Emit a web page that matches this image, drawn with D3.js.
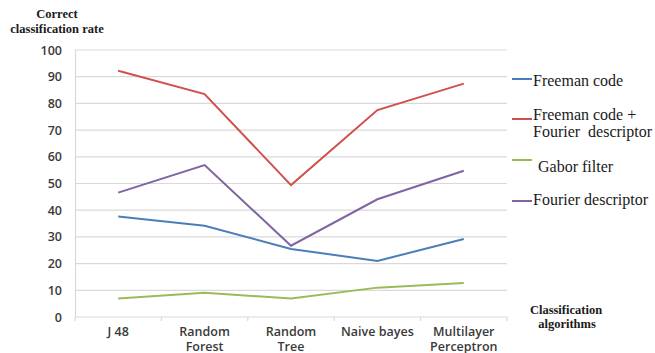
<!DOCTYPE html>
<html>
<head>
<meta charset="utf-8">
<script src="https://cdn.jsdelivr.net/npm/d3@7"></script>
<style>
  html, body { margin: 0; padding: 0; background: #fff; }
  svg { display: block; }
</style>
</head>
<body>
<svg id="chart" width="655" height="353"></svg>
<script>
// Classification algorithms compared
const categories = [["J 48"], ["Random", "Forest"], ["Random", "Tree"], ["Naive bayes"], ["Multilayer", "Perceptron"]];
const seriesNames = ["Freeman code", "Freeman code + Fourier descriptor", "Gabor filter", "Fourier descriptor"];
const freemanCode = [37.6, 34.2, 25.5, 21.0, 29.2];
const freemanFourier = [92.2, 83.5, 49.4, 77.5, 87.4];
const gaborFilter = [6.9, 9.1, 6.9, 11.0, 12.7];
const fourierDescriptor = [46.6, 56.9, 26.7, 44.1, 54.8];
const yTicks = [0, 10, 20, 30, 40, 50, 60, 70, 80, 90, 100];

const colors = ["#4a7ebb", "#d0504d", "#9bbb59", "#8064a2"];
const seriesValues = [freemanCode, freemanFourier, gaborFilter, fourierDescriptor];

const svg = d3.select("#chart");
const plotLeft = 75, plotRight = 507, plotTop = 50, plotBottom = 317;

const x = d3.scaleBand().domain(d3.range(categories.length)).range([plotLeft, plotRight]);
const y = d3.scaleLinear().domain([0, 100]).range([plotBottom, plotTop]);

// Horizontal gridlines
svg.append("g").selectAll("line").data(yTicks).join("line")
  .attr("x1", plotLeft).attr("x2", plotRight)
  .attr("y1", d => y(d)).attr("y2", d => y(d))
  .attr("stroke", "#d9d9d9").attr("stroke-width", 1.2);

// Vertical axis line
svg.append("line").attr("x1", plotLeft + 0.5).attr("x2", plotLeft + 0.5)
  .attr("y1", plotTop).attr("y2", plotBottom).attr("stroke", "#d9d9d9").attr("stroke-width", 1.2);

// Category tick marks at band boundaries
const bounds = d3.range(categories.length + 1).map(i => plotLeft + i * x.bandwidth());
svg.append("g").selectAll("line").data(bounds).join("line")
  .attr("x1", d => d).attr("x2", d => d)
  .attr("y1", plotBottom).attr("y2", plotBottom + 4)
  .attr("stroke", "#d9d9d9").attr("stroke-width", 1.2);

// Y tick labels
svg.append("g").selectAll("text").data(yTicks).join("text")
  .attr("x", 62).attr("y", d => y(d) + 4.5)
  .attr("text-anchor", "end")
  .attr("font-family", "'Open Sans', 'Liberation Sans', sans-serif")
  .attr("font-size", 12.5).attr("font-weight", 600).attr("fill", "#3a3a3a")
  .text(d => d);

// Category labels
const catG = svg.append("g");
categories.forEach((lines, i) => {
  const cx = x(i) + x.bandwidth() / 2;
  const t = catG.append("text")
    .attr("x", cx).attr("y", 336)
    .attr("text-anchor", "middle")
    .attr("font-family", "'Open Sans', 'Liberation Sans', sans-serif")
    .attr("font-size", 12.5).attr("font-weight", 600).attr("fill", "#3a3a3a");
  lines.forEach((l, j) => t.append("tspan").attr("x", cx).attr("dy", j === 0 ? 0 : 14.5).text(l));
});

// Series lines
const line = d3.line().x((d, i) => x(i) + x.bandwidth() / 2).y(d => y(d));
seriesValues.forEach((vals, k) => {
  svg.append("path").datum(vals)
    .attr("d", line).attr("fill", "none")
    .attr("stroke", colors[k]).attr("stroke-width", 2);
});

// Legend
const legend = [
  { lineY: 79, text: ["Freeman code"], textY: 86, tx: 533 },
  { lineY: 119, text: ["Freeman code +", "Fourier  descriptor"], textY: 120, tx: 533 },
  { lineY: 160, text: ["Gabor filter"], textY: 172, tx: 538 },
  { lineY: 201, text: ["Fourier descriptor"], textY: 205, tx: 533 }
];
legend.forEach((d, k) => {
  svg.append("line").attr("x1", 512).attr("x2", 532)
    .attr("y1", d.lineY).attr("y2", d.lineY)
    .attr("stroke", colors[k]).attr("stroke-width", 2);
  const t = svg.append("text").attr("x", d.tx).attr("y", d.textY)
    .attr("font-family", "'Liberation Serif', 'Times New Roman', serif")
    .attr("font-size", 16).attr("fill", "#1a1a1a").attr("xml:space", "preserve");
  d.text.forEach((l, j) => t.append("tspan").attr("x", d.tx).attr("dy", j === 0 ? 0 : 17).text(l));
});

// Axis titles
const titleStyle = s => s.attr("font-family", "'Liberation Serif', 'Times New Roman', serif")
  .attr("font-size", 12.5).attr("font-weight", "bold").attr("fill", "#1a1a1a")
  .attr("text-anchor", "middle");
svg.append("text").attr("x", 57).attr("y", 18).call(titleStyle).text("Correct");
svg.append("text").attr("x", 57).attr("y", 33).call(titleStyle).text("classification rate");
svg.append("text").attr("x", 566).attr("y", 314).call(titleStyle).text("Classification");
svg.append("text").attr("x", 567).attr("y", 328).call(titleStyle).text("algorithms");
</script>
</body>
</html>
